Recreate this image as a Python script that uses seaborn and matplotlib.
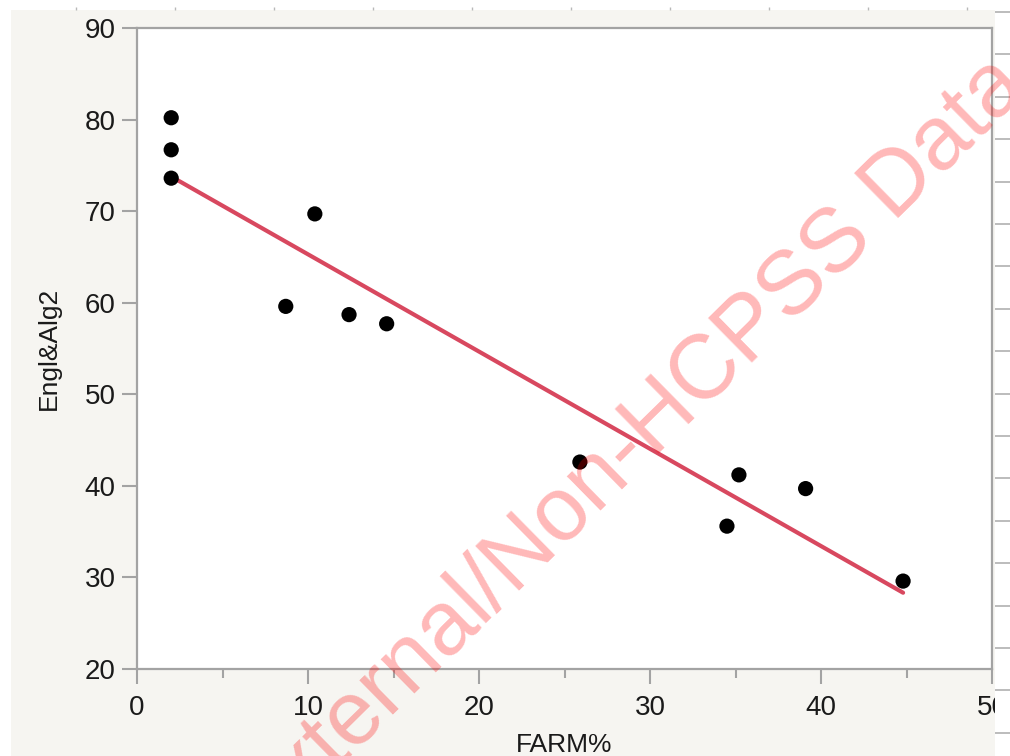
import numpy as np
import pandas as pd
import matplotlib
matplotlib.use("Agg")
import matplotlib.pyplot as plt
import seaborn as sns
from matplotlib.patches import Rectangle
from matplotlib.ticker import MultipleLocator, FixedLocator

# ---- data ----
farm_pct = [2.0, 2.0, 2.0, 10.4, 8.7, 12.4, 14.6, 25.9, 35.2, 34.5, 39.1, 44.8]
engl_alg2 = [80.2, 76.7, 73.6, 69.7, 59.6, 58.7, 57.7, 42.6, 41.2, 35.6, 39.7, 29.6]
x_ticks = [0, 10, 20, 30, 40, 50]
y_ticks = [20, 30, 40, 50, 60, 70, 80, 90]
x_label = "FARM%"
y_label = "Engl&Alg2"
watermark = "External/Non-HCPSS Data"

sns.set_theme(style="white")
plt.rcParams['font.family'] = ['Liberation Sans', 'DejaVu Sans']

W, H = 1010, 756
fig = plt.figure(figsize=(W / 100, H / 100), dpi=100, facecolor='white')
# off-white panel background
fig.patches.append(Rectangle((11 / W, 0), (995 - 11) / W, 1 - 10 / H,
                             transform=fig.transFigure, facecolor='#f6f5f1',
                             edgecolor='none', zorder=-10))

ax = fig.add_axes([137 / W, 1 - 669 / H, (992 - 137) / W, (669 - 28) / H])
ax.set_facecolor('white')

df = pd.DataFrame({x_label: farm_pct, y_label: engl_alg2})
sns.regplot(data=df, x=x_label, y=y_label, ax=ax, ci=None, truncate=True,
            color='black',
            scatter_kws=dict(s=120, edgecolor='none', alpha=1, zorder=3),
            line_kws=dict(color='#d8485f', lw=3, zorder=2))

ax.set_xlim(0, 50)
ax.set_ylim(20, 90)
ax.xaxis.set_major_locator(FixedLocator(x_ticks))
ax.yaxis.set_major_locator(FixedLocator(y_ticks))
ax.xaxis.set_minor_locator(MultipleLocator(5))
ax.set_xticklabels([str(t) for t in x_ticks])
ax.set_yticklabels([str(t) for t in y_ticks])

grey = '#a3a3a3'
for s in ax.spines.values():
    s.set_color(grey)
    s.set_linewidth(1.6)
ax.tick_params(axis='both', which='major', direction='out', length=10.5,
               width=1.5, color=grey, labelsize=20, labelcolor='#1a1a1a',
               pad=5, bottom=True, left=True)
ax.tick_params(axis='x', which='major', pad=8)
ax.tick_params(axis='x', which='minor', direction='out', length=6.5,
               width=1.5, color=grey, bottom=True)
ax.set_xlabel(x_label, fontsize=19, color='#1a1a1a', labelpad=9)
ax.set_ylabel(y_label, fontsize=19, color='#1a1a1a', labelpad=17)

# partial neighbouring panel at the right edge
ax2 = fig.add_axes([995 / W, 0, 15 / W, 1])
ax2.set_facecolor('white')
ax2.set_xlim(0, 1)
ax2.set_ylim(H, 0)
for s in ax2.spines.values():
    s.set_visible(False)
ax2.set_xticks([])
ax2.yaxis.set_major_locator(FixedLocator(np.arange(12, H, 42.4)))
ax2.tick_params(axis='y', direction='in', length=11, width=1.2, color='#b0b0b0',
                labelleft=False, left=True)

# top strip of neighbouring panel
ax3 = fig.add_axes([0, 1 - 10 / H, 1, 10 / H])
ax3.set_facecolor('white')
ax3.set_xlim(0, W)
ax3.set_ylim(0, 1)
for s in ax3.spines.values():
    s.set_visible(False)
ax3.set_yticks([])
ax3.xaxis.set_major_locator(FixedLocator(np.arange(76, W, 99)))
ax3.tick_params(axis='x', direction='in', length=2.5, width=1, color='#b8b8b8',
                labelbottom=False, bottom=True)

# watermark
fig.text(260 / W, 1 - 845 / H, watermark, rotation=44.5, color='red', alpha=0.28,
         fontsize=65, ha='left', va='baseline', rotation_mode='anchor', zorder=10)

fig.savefig('out.png', dpi=100, facecolor='white')
